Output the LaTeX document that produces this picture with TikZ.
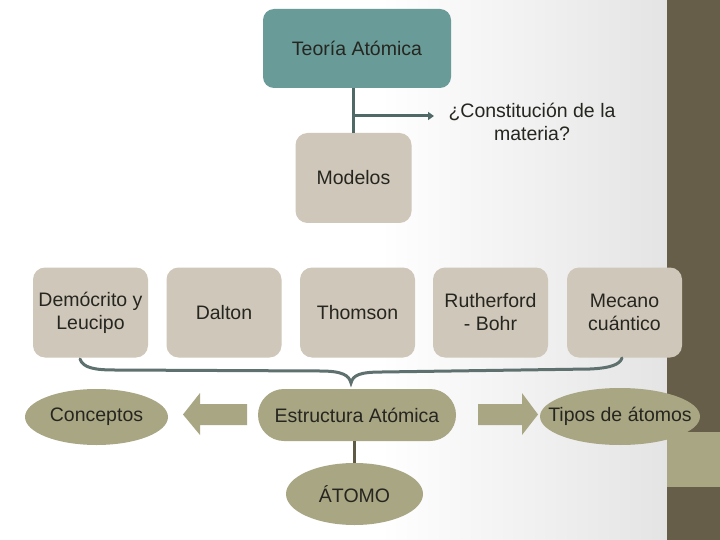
\documentclass[tikz,border=0pt]{standalone}
\usepackage{fontspec}
\setmainfont{Liberation Sans}
\usetikzlibrary{arrows.meta,shapes.geometric,calc}
\definecolor{tealbox}{HTML}{699B98}
\definecolor{beige}{HTML}{CFC7B9}
\definecolor{olivefill}{HTML}{A9A684}
\definecolor{darkstrip}{HTML}{665E48}
\definecolor{bggray}{HTML}{E4E4E4}
\definecolor{txt}{HTML}{262620}
\definecolor{tealline}{HTML}{4F6967}
\definecolor{braceline}{HTML}{5F716F}
\definecolor{oliveline}{HTML}{5F5A45}
\tikzset{
  lbl/.style={font=\fontsize{19.5}{23}\selectfont, text=txt, align=center},
  modelbox/.style={lbl, rounded corners=12pt, fill=beige, minimum width=115pt, minimum height=90pt, inner sep=0pt},
  oval/.style={ellipse, fill=olivefill, inner sep=0pt},
  blockarrow/.style={fill=olivefill},
}
\begin{document}
\begin{tikzpicture}[x=1pt,y=-1pt]
\useasboundingbox (0,0) rectangle (720,540);
\fill[white] (0,0) rectangle (720,540);
\shade[left color=white, right color=bggray] (380,0) rectangle (667,540);
\fill[darkstrip] (667,0) rectangle (720,432);
\fill[olivefill] (667,432) rectangle (720,487);
\fill[darkstrip] (667,487) rectangle (720,540);

% top
\node[lbl, rounded corners=11pt, fill=tealbox, minimum width=188pt, minimum height=79pt, inner sep=0pt] (teoria) at (357,48.5) {Teoría Atómica};
\node[modelbox, minimum width=116pt] (modelos) at (353.5,178) {Modelos};
\node[lbl] (pregunta) at (532,122) {¿Constitución de la\\materia?};

\draw[tealline, line width=3pt] (modelos.north |- teoria.south) -- (modelos.north);
\coordinate (qend) at (434,116);
\coordinate (branch) at (modelos.north |- qend);
\draw[tealline, line width=3pt, -{Triangle[length=6pt,width=8pt]}] (branch) -- (qend);

% models row
\node[modelbox] (demo) at (90.5,312.5) {Demócrito y\\Leucipo};
\node[modelbox] (dalton) at (224,312.5) {Dalton};
\node[modelbox] (thomson) at (357.5,312.5) {Thomson};
\node[modelbox] (ruther) at (490.5,312.5) {Rutherford\\- Bohr};
\node[modelbox] (mecano) at (624.5,312.5) {Mecano\\cuántico};

% brace
\draw[braceline, line width=3pt, line cap=round]
  (80,359) .. controls (83,368) and (95,370) .. (115,370) -- (320,371)
  .. controls (342,371) and (349,375) .. (351,383)
  .. controls (353,375) and (360,372) .. (382,372) -- (590,369)
  .. controls (612,368) and (620,364) .. (622,358);

% bottom row
\node[oval, minimum width=143pt, minimum height=56pt, label={[lbl]center:Conceptos}] (conceptos) at (96.5,417) {};
\node[lbl, fill=olivefill, rounded corners=26pt, minimum width=198pt, minimum height=52pt, inner sep=0pt] (estruct) at (357,415) {Estructura Atómica};
\node[oval, minimum width=160pt, minimum height=57pt, label={[lbl]center:Tipos de átomos}] (tipos) at (620,416.5) {};
\node[oval, minimum width=137pt, minimum height=62pt, label={[lbl]center:ÁTOMO}] (atomo) at (354.5,494) {};

\draw[oliveline, line width=3pt] (atomo.north |- estruct.south) -- (atomo.north);

% block arrows
\fill[blockarrow] (247,404) -- (200,404) -- (200,393) -- (183,414.5) -- (200,435) -- (200,425) -- (247,425) -- cycle;
\fill[blockarrow] (478,404) -- (522,404) -- (522,393) -- (538,414.5) -- (522,435) -- (522,425) -- (478,425) -- cycle;
\end{tikzpicture}
\end{document}
